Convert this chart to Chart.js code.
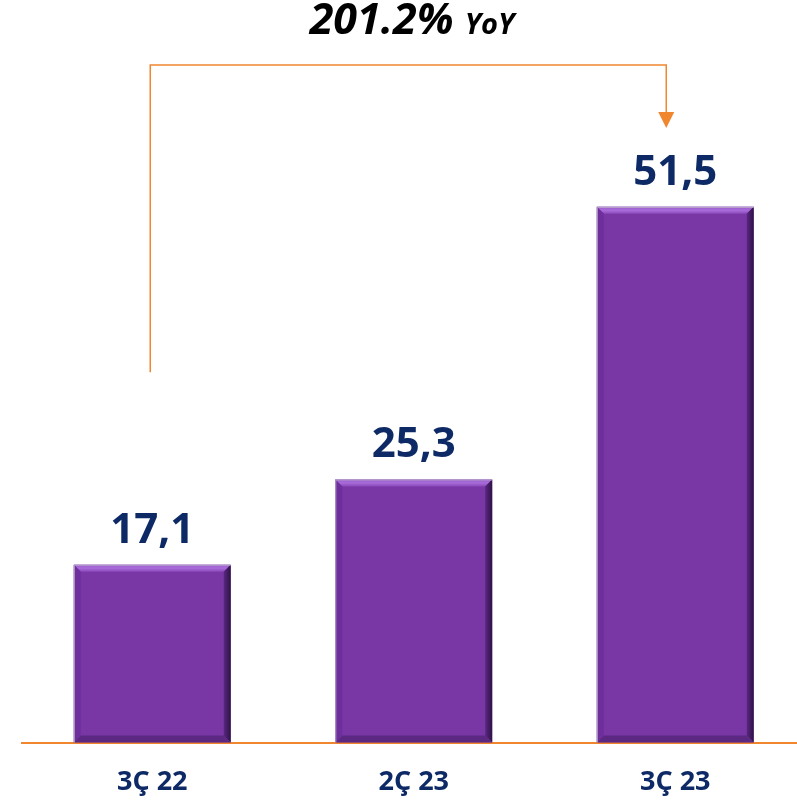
<!DOCTYPE html>
<html>
<head>
<meta charset="utf-8">
<script src="https://cdn.jsdelivr.net/npm/chart.js@4.4.0/dist/chart.umd.min.js"></script>
<style>
  html, body { margin: 0; padding: 0; background: #fff; overflow: hidden; }
  #wrap { width: 806px; height: 805px; }
</style>
</head>
<body>
<div id="wrap"><canvas id="chartGelir" width="806" height="805"></canvas></div>
<script>
// data
var periods = ['3Ç 22', '2Ç 23', '3Ç 23'];
var values = [17.1, 25.3, 51.5];
var valueLabels = ['17,1', '25,3', '51,5'];
var growthLabel = ['201.2%', 'YoY'];

var navy = '#0E2A66';
var orange = '#F0872F';
var purple = '#7937A6';

// bevel look for the bars
const bevelPlugin = {
    id: 'bevel',
    afterDatasetsDraw(chart) {
        const c = chart.ctx;
        chart.getDatasetMeta(0).data.forEach(function (bar, i) {
            var l = bar.x - bar.width / 2, r = bar.x + bar.width / 2;
            var t = bar.y, btm = bar.base, b = 7;
            c.save();
            // top
            var g = c.createLinearGradient(0, t, 0, t + b);
            g.addColorStop(0, '#9A5CCB');
            g.addColorStop(0.5, '#A86DDA');
            g.addColorStop(1, '#8A47B8');
            c.fillStyle = g;
            c.beginPath();
            c.moveTo(l, t); c.lineTo(r, t); c.lineTo(r - b, t + b); c.lineTo(l + b, t + b); c.closePath();
            c.fill();
            // right
            g = c.createLinearGradient(r - b, 0, r, 0);
            g.addColorStop(0, '#5A2782');
            g.addColorStop(1, '#2E1245');
            c.fillStyle = g;
            c.beginPath();
            c.moveTo(r, t); c.lineTo(r, btm); c.lineTo(r - b, btm - b); c.lineTo(r - b, t + b); c.closePath();
            c.fill();
            // bottom
            c.fillStyle = '#5C2982';
            c.beginPath();
            c.moveTo(l, btm); c.lineTo(r, btm); c.lineTo(r - b, btm - b); c.lineTo(l + b, btm - b); c.closePath();
            c.fill();
            // left
            c.fillStyle = '#6E2F9C';
            c.beginPath();
            c.moveTo(l, t); c.lineTo(l + b, t + b); c.lineTo(l + b, btm - b); c.lineTo(l, btm); c.closePath();
            c.fill();
            // thin light outline
            c.strokeStyle = '#B9A8C9';
            c.lineWidth = 1;
            c.beginPath();
            c.moveTo(l + 0.5, btm); c.lineTo(l + 0.5, t + 0.5); c.lineTo(r, t + 0.5);
            c.stroke();
            // value on top
            c.fillStyle = navy;
            c.font = 'bold 42px "Open Sans", sans-serif';
            c.textAlign = 'center';
            c.textBaseline = 'alphabetic';
            c.fillText(valueLabels[i], bar.x, t - 22);
            c.restore();
        });
    }
};

// orange bracket + growth text
const growthPlugin = {
    id: 'growth',
    afterDraw(chart) {
        const c = chart.ctx;
        const xs = chart.scales.x, ys = chart.scales.y;
        var x0 = xs.getPixelForValue(0) - 2;
        var x1 = xs.getPixelForValue(2) - 9;
        var yLow = ys.getPixelForValue(35.6);
        var yTop = 65;
        var yArrow = 128;
        c.save();
        c.strokeStyle = orange;
        c.lineWidth = 1.5;
        c.beginPath();
        c.moveTo(x0, yLow); c.lineTo(x0, yTop); c.lineTo(x1, yTop); c.lineTo(x1, yArrow - 14);
        c.stroke();
        c.fillStyle = orange;
        c.beginPath();
        c.moveTo(x1 - 8, yArrow - 16); c.lineTo(x1 + 8, yArrow - 16); c.lineTo(x1, yArrow); c.closePath();
        c.fill();

        c.fillStyle = '#000';
        c.textBaseline = 'alphabetic';
        c.textAlign = 'left';
        c.font = 'italic bold 43px "Open Sans", sans-serif';
        var w1 = c.measureText(growthLabel[0] + ' ').width;
        c.font = 'italic bold 29px "Open Sans", sans-serif';
        var w2 = c.measureText(growthLabel[1]).width;
        var sx = 412 - (w1 + w2) / 2;
        c.font = 'italic bold 43px "Open Sans", sans-serif';
        c.fillText(growthLabel[0], sx, 34);
        c.font = 'italic bold 29px "Open Sans", sans-serif';
        c.fillText(growthLabel[1], sx + w1, 34);
        c.restore();
    }
};

const ctx = document.getElementById('chartGelir').getContext('2d');
const myChart = new Chart(ctx, {
    type: 'bar',
    data: {
        labels: periods,
        datasets: [{
            data: values,
            backgroundColor: purple,
            borderWidth: 0,
            barPercentage: 0.6,
            categoryPercentage: 1
        }]
    },
    options: {
        responsive: false,
        animation: false,
        layout: { padding: { top: 16.5, left: 21.5, right: 0, bottom: -18 } },
        plugins: {
            legend: { display: false },
            tooltip: { enabled: false }
        },
        scales: {
            x: {
                grid: { display: false, drawTicks: false },
                border: { display: true, color: orange, width: 2 },
                ticks: {
                    color: navy,
                    font: { family: '"Open Sans", sans-serif', size: 27, weight: 'bold' },
                    padding: 24
                }
            },
            y: {
                display: false,
                min: 0,
                max: 69.8
            }
        }
    },
    plugins: [bevelPlugin, growthPlugin]
});
</script>
</body>
</html>
